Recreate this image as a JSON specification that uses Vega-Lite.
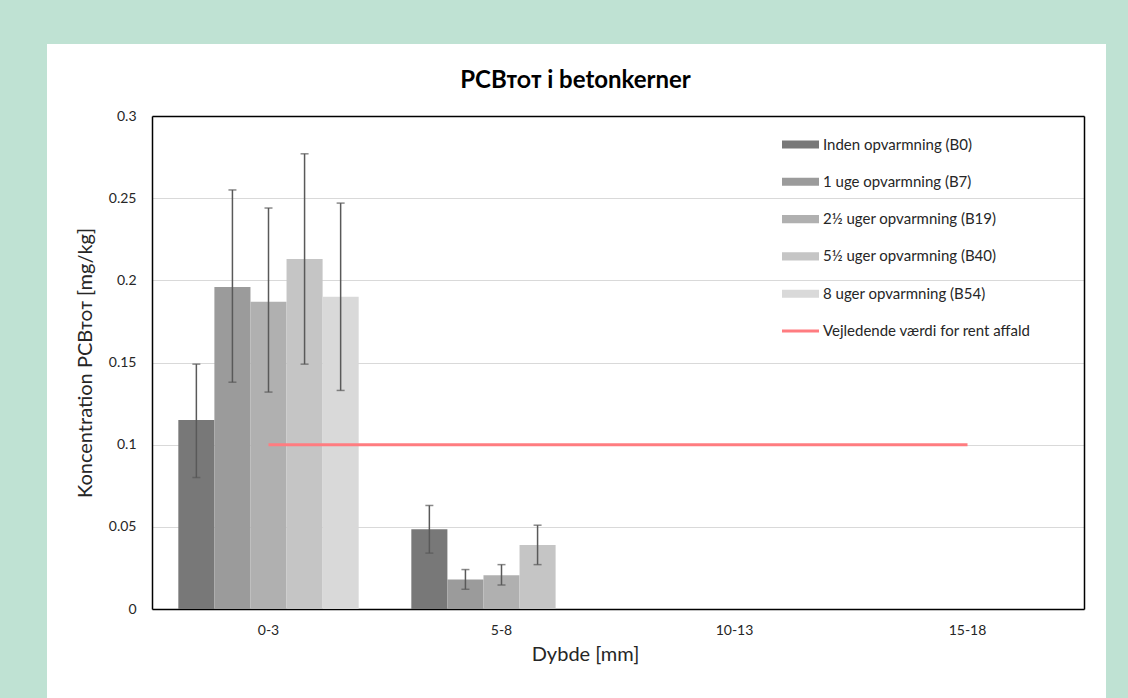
{
  "$schema": "https://vega.github.io/schema/vega-lite/v6.json",
  "width": 1059,
  "height": 654,
  "autosize": {"type": "none"},
  "padding": {"left": 47, "top": 44, "right": 22, "bottom": 0},
  "background": "#bfe2d3",
  "datasets": {
    "bars": [
      {"Dybde": "0-3", "Serie": "Inden opvarmning (B0)", "Vaerdi": 0.115, "Lav": 0.080, "Hoej": 0.149},
      {"Dybde": "0-3", "Serie": "1 uge opvarmning (B7)", "Vaerdi": 0.196, "Lav": 0.138, "Hoej": 0.255},
      {"Dybde": "0-3", "Serie": "2½ uger opvarmning  (B19)", "Vaerdi": 0.187, "Lav": 0.132, "Hoej": 0.244},
      {"Dybde": "0-3", "Serie": "5½ uger opvarmning (B40)", "Vaerdi": 0.213, "Lav": 0.149, "Hoej": 0.277},
      {"Dybde": "0-3", "Serie": "8 uger opvarmning  (B54)", "Vaerdi": 0.190, "Lav": 0.133, "Hoej": 0.247},
      {"Dybde": "5-8", "Serie": "Inden opvarmning (B0)", "Vaerdi": 0.0485, "Lav": 0.034, "Hoej": 0.063},
      {"Dybde": "5-8", "Serie": "1 uge opvarmning (B7)", "Vaerdi": 0.018, "Lav": 0.012, "Hoej": 0.024},
      {"Dybde": "5-8", "Serie": "2½ uger opvarmning  (B19)", "Vaerdi": 0.0205, "Lav": 0.0146, "Hoej": 0.027},
      {"Dybde": "5-8", "Serie": "5½ uger opvarmning (B40)", "Vaerdi": 0.039, "Lav": 0.027, "Hoej": 0.051}
    ],
    "limit": [
      {"Dybde": "0-3", "Serie": "Vejledende værdi for rent affald", "Vaerdi": 0.1},
      {"Dybde": "5-8", "Serie": "Vejledende værdi for rent affald", "Vaerdi": 0.1},
      {"Dybde": "10-13", "Serie": "Vejledende værdi for rent affald", "Vaerdi": 0.1},
      {"Dybde": "15-18", "Serie": "Vejledende værdi for rent affald", "Vaerdi": 0.1}
    ]
  },
  "title": {
    "text": "PCBᴛᴏᴛ i betonkerner",
    "font": "Lato",
    "fontSize": 24,
    "fontWeight": "bold",
    "color": "#000000",
    "dx": -1,
    "offset": -68,
    "baseline": "alphabetic"
  },
  "config": {
    "font": "Lato",
    "view": {"fill": "white", "stroke": null},
    "axis": {
      "labelFont": "Lato",
      "titleFont": "Lato",
      "labelFontSize": 14,
      "titleFontSize": 20,
      "titleFontWeight": "normal",
      "labelColor": "#262626",
      "titleColor": "#262626",
      "ticks": false,
      "domainColor": "#000000",
      "domainWidth": 1.5,
      "gridColor": "#d9d9d9",
      "gridWidth": 1.2
    }
  },
  "resolve": {"axis": {"x": "independent", "y": "independent"}},
  "layer": [
    {
      "layer": [
        {
          "data": {"name": "bars"},
          "mark": {"type": "bar"},
          "encoding": {
            "x": {
              "field": "Dybde",
              "type": "nominal",
              "sort": ["0-3", "5-8", "10-13", "15-18"],
              "scale": {"domain": ["0-3", "5-8", "10-13", "15-18"], "range": [105, 1037], "paddingInner": 0, "paddingOuter": 0},
              "axis": {"orient": "bottom", "offset": -89, "title": "Dybde [mm]", "labelAngle": 0, "labelPadding": 14, "titlePadding": 7, "titleX": 538, "grid": false}
            },
            "xOffset": {
              "field": "Serie",
              "type": "nominal",
              "scale": {
                "domain": ["Inden opvarmning (B0)", "1 uge opvarmning (B7)", "2½ uger opvarmning  (B19)", "5½ uger opvarmning (B40)", "8 uger opvarmning  (B54)"],
                "paddingInner": 0,
                "paddingOuter": 0.73
              }
            },
            "y": {
              "field": "Vaerdi",
              "type": "quantitative",
              "scale": {"domain": [0, 0.3], "range": [565, 72], "nice": false, "zero": true},
              "axis": {
                "orient": "left",
                "offset": -105,
                "title": "Koncentration PCBᴛᴏᴛ [mg/kg]",
                "values": [0, 0.05, 0.1, 0.15, 0.2, 0.25, 0.3],
                "format": "~g",
                "labelPadding": 16,
                "titlePadding": 13,
                "grid": true
              }
            },
            "color": {
              "field": "Serie",
              "type": "nominal",
              "scale": {
                "domain": ["Inden opvarmning (B0)", "1 uge opvarmning (B7)", "2½ uger opvarmning  (B19)", "5½ uger opvarmning (B40)", "8 uger opvarmning  (B54)", "Vejledende værdi for rent affald"],
                "range": ["#787878", "#9b9b9b", "#b0b0b0", "#c5c5c5", "#d9d9d9", "#ff7c80"]
              },
              "legend": {
                "orient": "none",
                "legendX": 746,
                "legendY": 93,
                "title": null,
                "padding": 0,
                "symbolSize": 1369,
                "symbolType": "M-1,-0.22H1V0.22H-1Z",
                "labelFont": "Lato",
                "labelFontSize": 15,
                "labelColor": "#262626",
                "labelOffset": 15,
                "labelLimit": 320,
                "rowPadding": 21.3,
                "encode": {
                  "symbols": {
                    "update": {
                      "shape": {"signal": "datum.value === 'Vejledende værdi for rent affald' ? 'stroke' : 'M-1,-0.22H1V0.22H-1Z'"},
                      "fill": {"signal": "datum.value === 'Vejledende værdi for rent affald' ? 'transparent' : scale('color', datum.value)"},
                      "stroke": {"signal": "datum.value === 'Vejledende værdi for rent affald' ? '#ff7c80' : 'transparent'"},
                      "strokeWidth": {"signal": "datum.value === 'Vejledende værdi for rent affald' ? 3 : 0"},
                      "opacity": {"value": 1},
                      "fillOpacity": {"value": 1}
                    }
                  }
                }
              }
            }
          }
        },
        {
          "data": {"name": "bars"},
          "mark": {"type": "rule", "color": "#595959", "strokeWidth": 1.5},
          "encoding": {
            "x": {"field": "Dybde", "type": "nominal"},
            "xOffset": {"field": "Serie", "type": "nominal"},
            "y": {"field": "Lav", "type": "quantitative"},
            "y2": {"field": "Hoej"}
          }
        },
        {
          "data": {"name": "bars"},
          "mark": {"type": "tick", "color": "#595959", "size": 8, "thickness": 1.5, "orient": "horizontal"},
          "encoding": {
            "x": {"field": "Dybde", "type": "nominal"},
            "xOffset": {"field": "Serie", "type": "nominal"},
            "y": {"field": "Lav", "type": "quantitative"}
          }
        },
        {
          "data": {"name": "bars"},
          "mark": {"type": "tick", "color": "#595959", "size": 8, "thickness": 1.5, "orient": "horizontal"},
          "encoding": {
            "x": {"field": "Dybde", "type": "nominal"},
            "xOffset": {"field": "Serie", "type": "nominal"},
            "y": {"field": "Hoej", "type": "quantitative"}
          }
        }
      ]
    },
    {
      "data": {"name": "limit"},
      "mark": {"type": "line", "color": "#ff7c80", "strokeWidth": 3},
      "encoding": {
        "x": {
          "field": "Dybde",
          "type": "nominal",
          "axis": {"orient": "top", "offset": -72, "labels": false, "ticks": false, "title": null, "grid": false, "domain": true}
        },
        "y": {
          "field": "Vaerdi",
          "type": "quantitative",
          "axis": {"orient": "right", "offset": -22, "labels": false, "ticks": false, "title": null, "grid": false, "domain": true}
        },
        "color": {"field": "Serie", "type": "nominal"}
      }
    }
  ]
}
